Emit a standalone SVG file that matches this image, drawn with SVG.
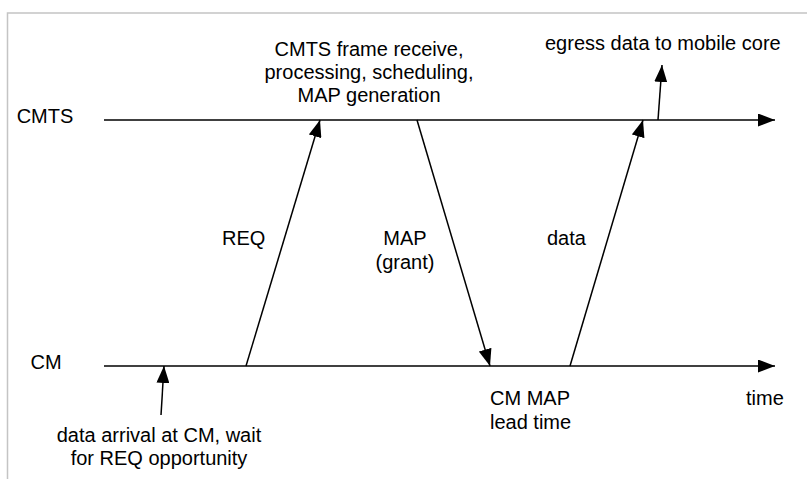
<svg xmlns="http://www.w3.org/2000/svg" width="807" height="479" viewBox="0 0 807 479">
  <style>
    text { font-family: "Liberation Sans", Arial, Helvetica, sans-serif; font-size: 20px; fill: #000; }
    .mid { text-anchor: middle; }
    .ln { stroke: #000; stroke-width: 1.5; fill: none; }
    .frame { stroke: #c4c4c4; stroke-width: 1.5; fill: none; }
  </style>
  <defs>
    <marker id="ah" markerUnits="userSpaceOnUse" markerWidth="17" markerHeight="13" refX="17" refY="6.5" orient="auto">
      <path d="M0,0 L17,6.5 L0,13 Z" fill="#000"/>
    </marker>
  </defs>
  <rect width="807" height="479" fill="#fff"/>
  <path class="frame" d="M7.5,479 L7.5,13 L807,13"/>

  <g id="cmts-timeline">
    <text class="mid" x="45" y="123">CMTS</text>
    <line class="ln" x1="104" y1="120" x2="775" y2="120" marker-end="url(#ah)"/>
  </g>
  <g id="cm-timeline">
    <text class="mid" x="46" y="369">CM</text>
    <line class="ln" x1="104" y1="366" x2="775" y2="366" marker-end="url(#ah)"/>
    <text x="746" y="405">time</text>
  </g>

  <g id="cmts-processing">
    <text class="mid" x="369" y="56">CMTS frame receive,</text>
    <text class="mid" x="369" y="79">processing, scheduling,</text>
    <text class="mid" x="369" y="102">MAP generation</text>
  </g>
  <g id="egress">
    <text x="545" y="50">egress data to mobile core</text>
  </g>
  <g id="data-arrival">
    <text class="mid" x="159" y="442">data arrival at CM, wait</text>
    <text class="mid" x="159" y="465">for REQ opportunity</text>
  </g>
  <g id="cm-map-lead">
    <text x="490" y="405">CM MAP</text>
    <text x="490" y="429">lead time</text>
  </g>

  <g id="connectors">
    <line class="ln" x1="246" y1="366" x2="320" y2="120" marker-end="url(#ah)"/>
    <text x="222" y="245">REQ</text>
    <line class="ln" x1="417" y1="120" x2="490" y2="366" marker-end="url(#ah)"/>
    <text class="mid" x="405" y="245">MAP</text>
    <text class="mid" x="405" y="269">(grant)</text>
    <line class="ln" x1="570" y1="366" x2="643" y2="120" marker-end="url(#ah)"/>
    <text x="547" y="245">data</text>
    <line class="ln" x1="658" y1="120" x2="662" y2="65" marker-end="url(#ah)"/>
    <line class="ln" x1="161" y1="415" x2="164" y2="366" marker-end="url(#ah)"/>
  </g>
</svg>
